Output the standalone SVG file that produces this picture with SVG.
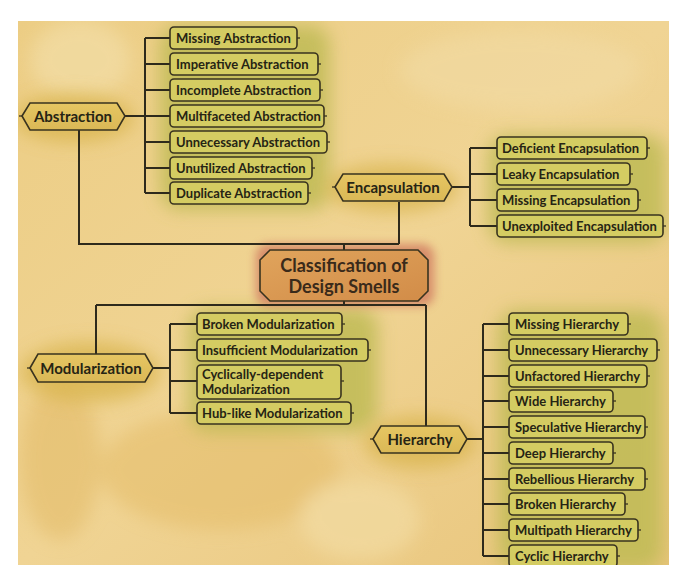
<svg xmlns="http://www.w3.org/2000/svg" width="681" height="565" viewBox="0 0 681 565">
<defs>
<linearGradient id="bg" x1="0" y1="0" x2="1" y2="1">
<stop offset="0" stop-color="#eccd84"/>
<stop offset="0.5" stop-color="#f0d494"/>
<stop offset="1" stop-color="#e8c47a"/>
</linearGradient>
<linearGradient id="hexFill" x1="0" y1="0" x2="0" y2="1">
<stop offset="0" stop-color="#e6c662"/>
<stop offset="1" stop-color="#dab856"/>
</linearGradient>
<linearGradient id="ctrFill" x1="0" y1="0" x2="1" y2="1">
<stop offset="0" stop-color="#e0a45c"/>
<stop offset="1" stop-color="#d28c48"/>
</linearGradient>
<filter id="blur" x="-50%" y="-50%" width="200%" height="200%"><feGaussianBlur stdDeviation="9"/></filter>
<filter id="blurS" x="-50%" y="-50%" width="200%" height="200%"><feGaussianBlur stdDeviation="5"/></filter>
<clipPath id="panel"><rect x="18" y="21" width="651" height="544"/></clipPath>
</defs>
<style>
.box{fill:#d4cc62;stroke:#39331f;stroke-width:1.6}
.tick{stroke:#39331f;stroke-width:1.3}
.hex{fill:url(#hexFill);stroke:#39331f;stroke-width:1.6}
.ctr{fill:url(#ctrFill);stroke:#39331f;stroke-width:1.6}
.lbl{font-family:Lato,"Liberation Sans",sans-serif;font-weight:bold;font-size:13px;fill:#262414}
.hl{font-family:Lato,"Liberation Sans",sans-serif;font-weight:bold;font-size:15px;fill:#262414;text-anchor:middle}
.cl{font-family:Lato,"Liberation Sans",sans-serif;font-weight:bold;font-size:18px;fill:#3a2a1a;text-anchor:middle}
.con{fill:none;stroke:#2e2a1c;stroke-width:2}
</style>
<rect width="681" height="565" fill="#ffffff"/>
<g id="background" clip-path="url(#panel)">
<rect x="18" y="21" width="651" height="544" fill="url(#bg)"/>
<g filter="url(#blur)" opacity="0.55">
<ellipse cx="80" cy="60" rx="50" ry="40" fill="#f4e2b0"/>
<ellipse cx="520" cy="70" rx="120" ry="40" fill="#f2dca6"/>
<ellipse cx="220" cy="470" rx="120" ry="60" fill="#e4bc68"/>
<ellipse cx="360" cy="520" rx="60" ry="40" fill="#f4e0aa"/>
<ellipse cx="60" cy="460" rx="40" ry="80" fill="#e2ba66"/>
</g>
<g filter="url(#blur)" fill="#bfbb55" opacity="0.85">
<rect x="160" y="25" width="170" height="185" rx="20"/>
<rect x="488" y="135" width="178" height="108" rx="20"/>
<rect x="188" y="308" width="190" height="124" rx="20"/>
<rect x="498" y="310" width="165" height="260" rx="20"/>
</g>
<g filter="url(#blur)" fill="#d8b44c" opacity="0.75">
<ellipse cx="74" cy="118" rx="60" ry="24"/>
<ellipse cx="392" cy="188" rx="66" ry="24"/>
<ellipse cx="90" cy="372" rx="70" ry="30"/>
<ellipse cx="420" cy="442" rx="56" ry="26"/>
</g>
<g filter="url(#blurS)" fill="#d07a60" opacity="0.8">
<rect x="256" y="244" width="178" height="62" rx="12"/>
</g>
</g>
<g id="connectors">
<path class="con" d="M125,116 H145 M145,38 V193 M145,38 H170 M145,64 H170 M145,90 H170 M145,116 H170 M145,142 H170 M145,168 H170 M145,193 H170"/>
<path class="con" d="M79,130 V244 H399 M399,202 V244 M344,244 V250"/>
<path class="con" d="M452,187 H470 M470,148 V226 M470,148 H497 M470,174 H497 M470,200 H497 M470,226 H497"/>
<path class="con" d="M344,301 V305 M96,305 H426 M96,305 V354 M426,305 V426"/>
<path class="con" d="M153,368 H170 M170,324 V413 M170,324 H197 M170,350 H197 M170,381 H197 M170,413 H197"/>
<path class="con" d="M467,439 H483 M483,324 V556 M483,324 H509 M483,350 H509 M483,376 H509 M483,401 H509 M483,427 H509 M483,453 H509 M483,479 H509 M483,504 H509 M483,530 H509 M483,556 H509"/>
</g>
<g id="center">
<path class="ctr" d="M270,250 H418 L428,260 V291 L418,301 H270 L260,291 V260 Z"/>
<text class="cl" x="344" y="272">Classification of</text>
<text class="cl" x="344" y="293">Design Smells</text>
</g>
<g id="abstraction">
<path class="hex" d="M22,116 L30,103 H117 L125,116 L117,130 H30 Z"/>
<line class="tick" x1="19" y1="116" x2="22" y2="116"/>
<text class="hl" x="73" y="121.5">Abstraction</text>
</g>
<g id="encapsulation">
<path class="hex" d="M335,187 L343,174 H444 L452,187 L444,201 H343 Z"/>
<line class="tick" x1="332" y1="187" x2="335" y2="187"/>
<text class="hl" x="393" y="192.5">Encapsulation</text>
</g>
<g id="modularization">
<path class="hex" d="M30,368 L38,354 H145 L153,368 L145,382 H38 Z"/>
<line class="tick" x1="27" y1="368" x2="30" y2="368"/>
<text class="hl" x="91" y="373.5">Modularization</text>
</g>
<g id="hierarchy">
<path class="hex" d="M373,439 L381,426 H459 L467,439 L459,453 H381 Z"/>
<line class="tick" x1="370" y1="439" x2="373" y2="439"/>
<text class="hl" x="420" y="444.5">Hierarchy</text>
</g>
<g id="missing-abstraction"><rect class="box" x="170" y="27" width="127" height="22" rx="4"/><line class="tick" x1="297" y1="38" x2="300" y2="38"/><text class="lbl" x="176" y="42.5">Missing Abstraction</text></g>
<g id="imperative-abstraction"><rect class="box" x="170" y="53" width="148" height="22" rx="4"/><line class="tick" x1="318" y1="64" x2="321" y2="64"/><text class="lbl" x="176" y="68.5">Imperative Abstraction</text></g>
<g id="incomplete-abstraction"><rect class="box" x="170" y="79" width="150" height="22" rx="4"/><line class="tick" x1="320" y1="90" x2="323" y2="90"/><text class="lbl" x="176" y="94.5">Incomplete Abstraction</text></g>
<g id="multifaceted-abstraction"><rect class="box" x="170" y="105" width="154" height="22" rx="4"/><line class="tick" x1="324" y1="116" x2="327" y2="116"/><text class="lbl" x="176" y="120.5">Multifaceted Abstraction</text></g>
<g id="unnecessary-abstraction"><rect class="box" x="170" y="131" width="157" height="22" rx="4"/><line class="tick" x1="327" y1="142" x2="330" y2="142"/><text class="lbl" x="176" y="146.5">Unnecessary Abstraction</text></g>
<g id="unutilized-abstraction"><rect class="box" x="170" y="157" width="142" height="22" rx="4"/><line class="tick" x1="312" y1="168" x2="315" y2="168"/><text class="lbl" x="176" y="172.5">Unutilized Abstraction</text></g>
<g id="duplicate-abstraction"><rect class="box" x="170" y="182" width="138" height="22" rx="4"/><line class="tick" x1="308" y1="193" x2="311" y2="193"/><text class="lbl" x="176" y="197.5">Duplicate Abstraction</text></g>
<g id="deficient-encapsulation"><rect class="box" x="497" y="137" width="150" height="22" rx="4"/><line class="tick" x1="647" y1="148" x2="650" y2="148"/><text class="lbl" x="502" y="152.5">Deficient Encapsulation</text></g>
<g id="leaky-encapsulation"><rect class="box" x="497" y="163" width="133" height="22" rx="4"/><line class="tick" x1="630" y1="174" x2="633" y2="174"/><text class="lbl" x="502" y="178.5">Leaky Encapsulation</text></g>
<g id="missing-encapsulation"><rect class="box" x="497" y="189" width="141" height="22" rx="4"/><line class="tick" x1="638" y1="200" x2="641" y2="200"/><text class="lbl" x="502" y="204.5">Missing Encapsulation</text></g>
<g id="unexploited-encapsulation"><rect class="box" x="497" y="215" width="166" height="22" rx="4"/><line class="tick" x1="663" y1="226" x2="666" y2="226"/><text class="lbl" x="502" y="230.5">Unexploited Encapsulation</text></g>
<g id="broken-modularization"><rect class="box" x="197" y="313" width="145" height="22" rx="4"/><line class="tick" x1="342" y1="324" x2="345" y2="324"/><text class="lbl" x="202" y="328.5">Broken Modularization</text></g>
<g id="insufficient-modularization"><rect class="box" x="197" y="339" width="171" height="22" rx="4"/><line class="tick" x1="368" y1="350" x2="371" y2="350"/><text class="lbl" x="202" y="354.5">Insufficient Modularization</text></g>
<g id="cyclically-dependent-modularization"><rect class="box" x="197" y="365" width="144" height="34" rx="4"/><line class="tick" x1="341" y1="381" x2="344" y2="381"/><text class="lbl" x="202" y="378.5">Cyclically-dependent</text><text class="lbl" x="202" y="394">Modularization</text></g>
<g id="hub-like-modularization"><rect class="box" x="197" y="402" width="154" height="22" rx="4"/><line class="tick" x1="351" y1="413" x2="354" y2="413"/><text class="lbl" x="202" y="417.5">Hub-like Modularization</text></g>
<g id="missing-hierarchy"><rect class="box" x="509" y="313" width="119" height="22" rx="4"/><line class="tick" x1="628" y1="324" x2="631" y2="324"/><text class="lbl" x="515" y="328.5">Missing Hierarchy</text></g>
<g id="unnecessary-hierarchy"><rect class="box" x="509" y="339" width="148" height="22" rx="4"/><line class="tick" x1="657" y1="350" x2="660" y2="350"/><text class="lbl" x="515" y="354.5">Unnecessary Hierarchy</text></g>
<g id="unfactored-hierarchy"><rect class="box" x="509" y="365" width="138" height="22" rx="4"/><line class="tick" x1="647" y1="376" x2="650" y2="376"/><text class="lbl" x="515" y="380.5">Unfactored Hierarchy</text></g>
<g id="wide-hierarchy"><rect class="box" x="509" y="390" width="104" height="22" rx="4"/><line class="tick" x1="613" y1="401" x2="616" y2="401"/><text class="lbl" x="515" y="405.5">Wide Hierarchy</text></g>
<g id="speculative-hierarchy"><rect class="box" x="509" y="416" width="136" height="22" rx="4"/><line class="tick" x1="645" y1="427" x2="648" y2="427"/><text class="lbl" x="515" y="431.5">Speculative Hierarchy</text></g>
<g id="deep-hierarchy"><rect class="box" x="509" y="442" width="104" height="22" rx="4"/><line class="tick" x1="613" y1="453" x2="616" y2="453"/><text class="lbl" x="515" y="457.5">Deep Hierarchy</text></g>
<g id="rebellious-hierarchy"><rect class="box" x="509" y="468" width="136" height="22" rx="4"/><line class="tick" x1="645" y1="479" x2="648" y2="479"/><text class="lbl" x="515" y="483.5">Rebellious Hierarchy</text></g>
<g id="broken-hierarchy"><rect class="box" x="509" y="493" width="116" height="22" rx="4"/><line class="tick" x1="625" y1="504" x2="628" y2="504"/><text class="lbl" x="515" y="508.5">Broken Hierarchy</text></g>
<g id="multipath-hierarchy"><rect class="box" x="509" y="519" width="129" height="22" rx="4"/><line class="tick" x1="638" y1="530" x2="641" y2="530"/><text class="lbl" x="515" y="534.5">Multipath Hierarchy</text></g>
<g id="cyclic-hierarchy"><rect class="box" x="509" y="545" width="108" height="22" rx="4"/><line class="tick" x1="617" y1="556" x2="620" y2="556"/><text class="lbl" x="515" y="560.5">Cyclic Hierarchy</text></g>
</svg>
